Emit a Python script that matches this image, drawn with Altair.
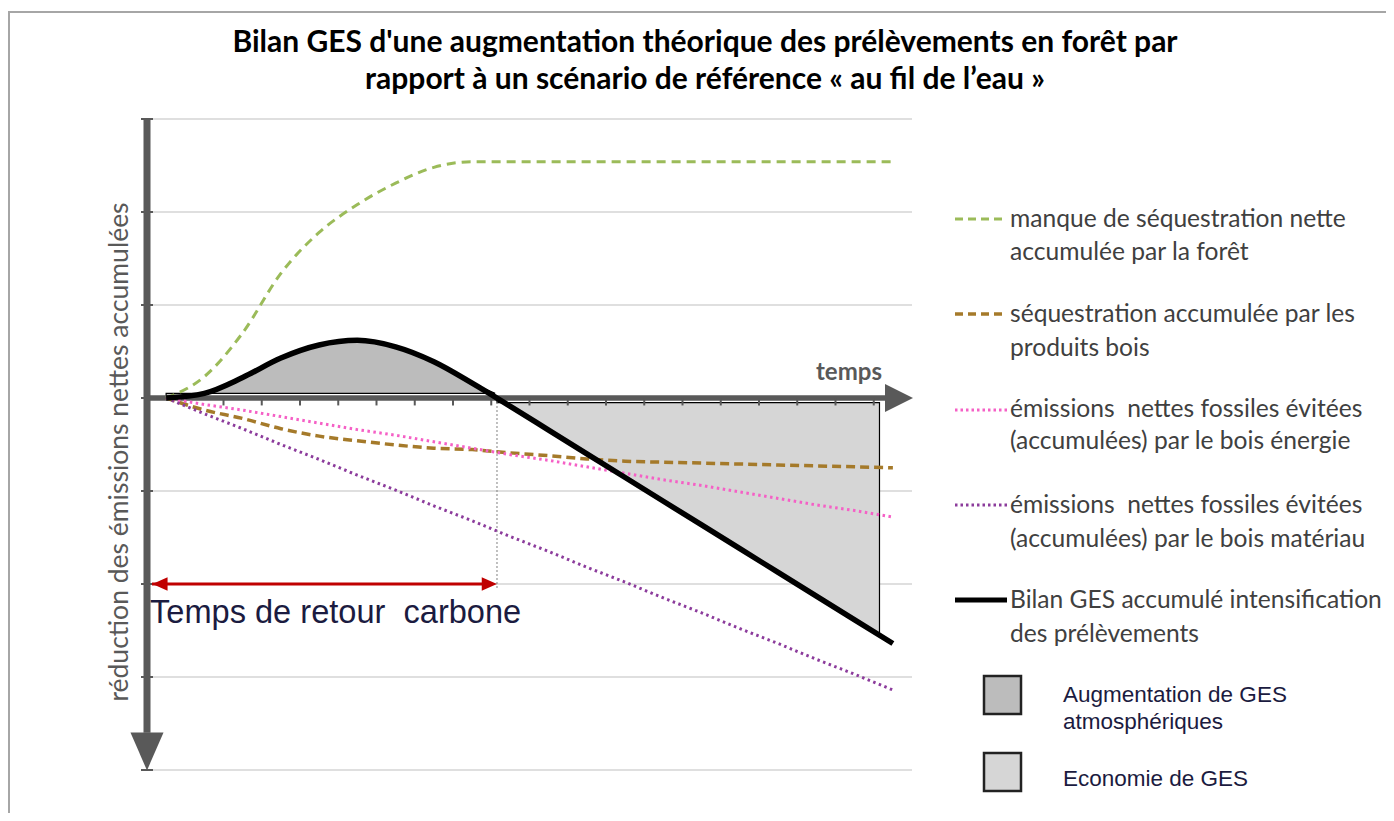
import altair as alt
import pandas as pd

# ---------------- data ----------------
periods = list(range(20))
manque_foret = [0, 0.23, 0.70, 1.34, 1.78, 2.08, 2.31, 2.48, 2.54, 2.54,
                2.54, 2.54, 2.54, 2.54, 2.54, 2.54, 2.54, 2.54, 2.54, 2.54]
sequestration_produits = [0, -0.13, -0.22, -0.33, -0.41, -0.46, -0.505, -0.54, -0.555, -0.59,
                          -0.62, -0.655, -0.68, -0.69, -0.70, -0.71, -0.72, -0.73, -0.74, -0.75]
evitees_energie = [0, -0.07, -0.13, -0.20, -0.27, -0.34, -0.40, -0.47, -0.54, -0.61,
                   -0.67, -0.74, -0.81, -0.88, -0.94, -1.01, -1.08, -1.15, -1.21, -1.28]
evitees_materiau = [0, -0.17, -0.33, -0.50, -0.66, -0.83, -0.99, -1.16, -1.32, -1.49,
                    -1.65, -1.82, -1.98, -2.15, -2.31, -2.48, -2.64, -2.81, -2.97, -3.14]
bilan = [0, 0.05, 0.22, 0.43, 0.57, 0.62, 0.55, 0.39, 0.16, -0.09,
         -0.345, -0.60, -0.855, -1.11, -1.365, -1.62, -1.875, -2.13, -2.385, -2.64]

retour_t = 8.65          # temps de retour carbone (bilan crosses zero)
aug_t = periods[:9] + [8.6]
aug_y = bilan[:9] + [0.05]
aug_base = 0.05
eco_t = [retour_t] + periods[9:19] + [18.65]
eco_y = [0] + bilan[9:19] + [-2.55]
eco_base = -0.05
grid_levels = [3, 2, 1, -1, -2, -3, -4]
x_ticks = [i - 0.5 for i in range(1, 20)]
retour_level = -2

title_lines = ["Bilan GES d'une augmentation théorique des prélèvements en forêt par",
               "rapport à un scénario de référence « au fil de l’eau »"]
legend_lines = [
    ["manque de séquestration nette", "accumulée par la forêt"],
    ["séquestration accumulée par les", "produits bois"],
    ["émissions\u00a0 nettes fossiles évitées", "(accumulées) par le bois énergie"],
    ["émissions\u00a0 nettes fossiles évitées", "(accumulées) par le bois matériau"],
    ["Bilan GES accumulé intensification", "des prélèvements"],
]
area_legend = [["Augmentation de GES", "atmosphériques"], ["Economie de GES"]]

# ---------------- styles ----------------
GREEN, BROWN, PINK, PURPLE = "#9bbb59", "#a57a2a", "#f560c6", "#8c3c9c"
AXIS = "#595959"
OX, OY = 147, 119      # page position of the plot origin
W, H = 765, 651

xs = alt.Scale(domain=[-0.5, 19.5], nice=False, zero=False)
ys = alt.Scale(domain=[-4, 3], nice=False, zero=False)
one = pd.DataFrame({"a": [0]})
X = lambda f="t": alt.X(f + ":Q", scale=xs, axis=None)
Y = lambda f="v": alt.Y(f + ":Q", scale=ys, axis=None)


def series(vals, color, width, dash=None, interp="monotone"):
    df = pd.DataFrame({"t": periods, "v": vals})
    kw = dict(color=color, strokeWidth=width, interpolate=interp)
    if dash:
        kw["strokeDash"] = dash
    return alt.Chart(df).mark_line(**kw).encode(x=X(), y=Y())


def seg(t1, t2, v1, v2, color, width, dash=None):
    df = pd.DataFrame({"t": [t1], "t2": [t2], "v": [v1], "v2": [v2]})
    kw = dict(color=color, strokeWidth=width)
    if dash:
        kw["strokeDash"] = dash
    return alt.Chart(df).mark_rule(**kw).encode(x=X(), x2="t2:Q", y=Y(), y2="v2:Q")


def head(t, v, shape, size, color):
    df = pd.DataFrame({"t": [t], "v": [v]})
    return alt.Chart(df).mark_point(shape=shape, size=size, filled=True, color=color,
                                    opacity=1, strokeWidth=0).encode(x=X(), y=Y())


def txt(s, px, py, size, color="#404040", font="Lato", weight="normal",
        align="left", angle=0, baseline="alphabetic"):
    kw = dict(text=s, fontSize=size, color=color, font=font, fontWeight=weight,
              align=align, baseline=baseline)
    if angle:
        kw["angle"] = angle
    return alt.Chart(one).mark_text(**kw).encode(
        x=alt.value(px - OX), y=alt.value(py - OY))


def hline(px1, px2, py, color, width, dash=None):
    kw = dict(color=color, strokeWidth=width)
    if dash:
        kw["strokeDash"] = dash
    return alt.Chart(one).mark_rule(**kw).encode(
        x=alt.value(px1 - OX), x2=alt.value(px2 - OX), y=alt.value(py - OY))


layers = []

# frame of the picture
layers.append(hline(8, 1394, 12, "#a6a6a6", 2))
layers.append(alt.Chart(one).mark_rule(color="#a6a6a6", strokeWidth=2).encode(
    x=alt.value(9 - OX), y=alt.value(12 - OY), y2=alt.value(H + 43)))

# gridlines
layers.append(alt.Chart(pd.DataFrame({"v": grid_levels})).mark_rule(
    color="#d4d4d4", strokeWidth=1.3).encode(y=Y(), x=alt.value(0), x2=alt.value(W)))

# areas
layers.append(alt.Chart(pd.DataFrame({"t": aug_t, "v": aug_y, "b": [aug_base] * len(aug_t)})).mark_area(
    color="#bcbcbc", stroke="black", strokeWidth=1.2, interpolate="monotone").encode(
    x=X(), y=Y(), y2="b:Q"))
layers.append(alt.Chart(pd.DataFrame({"t": eco_t, "v": eco_y, "b": [eco_base] * len(eco_t)})).mark_area(
    color="#d6d6d6", stroke="black", strokeWidth=1.2).encode(
    x=X(), y=Y(), y2="b:Q"))

# axes (thick gray arrows)
layers.append(seg(-0.5, -0.5, 3, -3.6, AXIS, 7))
layers.append(seg(-0.5, 19.0, 0, 0, AXIS, 5.5))
layers.append(alt.Chart(pd.DataFrame({"t": x_ticks, "v": [0] * len(x_ticks), "v2": [-0.08] * len(x_ticks)}))
              .mark_rule(color=AXIS, strokeWidth=2).encode(x=X(), y=Y(), y2="v2:Q"))
layers.append(alt.Chart(pd.DataFrame({"v": grid_levels + [0]})).mark_rule(color=AXIS, strokeWidth=2).encode(
    y=Y(), x=alt.value(-6), x2=alt.value(6)))
layers.append(head(-0.5, -3.8, "M-0.87,-1L0.87,-1L0,1Z", 1444, AXIS))
layers.append(head(19.16, 0, "M-1,-1L1,0L-1,1Z", 784, AXIS))

# temps de retour carbone marker
layers.append(seg(retour_t, retour_t, 0, -2.05, "#808080", 1, [2, 2]))
layers.append(seg(-0.37, retour_t - 0.3, retour_level, retour_level, "#c00000", 3))
layers.append(head(8.45, retour_level, "M-1,-0.9L1,0L-1,0.9Z", 230, "#c00000"))
layers.append(head(-0.16, retour_level, "M1,-0.9L-1,0L1,0.9Z", 230, "#c00000"))

# series
layers.append(series(manque_foret, GREEN, 3, [9, 6]))
layers.append(series(sequestration_produits, BROWN, 3.5, [9, 5]))
layers.append(series(evitees_energie, PINK, 3, [2.5, 3.5], "linear"))
layers.append(series(evitees_materiau, PURPLE, 3, [2.5, 3.5], "linear"))
layers.append(series(bilan, "black", 5.5))

# texts
layers.append(txt(title_lines[0], 705, 52, 30, "black", weight="bold", align="center"))
layers.append(txt(title_lines[1], 705, 89, 30, "black", weight="bold", align="center"))
layers.append(txt("temps", 816, 380, 24, AXIS, weight="bold"))
layers.append(txt("réduction des émissions nettes accumulées", 120, 452, 26.5, AXIS,
                  align="center", angle=270, baseline="middle"))
layers.append(txt("Temps de retour\u00a0 carbone", 150, 623, 32.6, "#1b1b40", font="Liberation Sans"))

# legend
sym = [(GREEN, 3, [8, 5]), (BROWN, 3.5, [8, 5]), (PINK, 3, [2.5, 3]), (PURPLE, 3, [2.5, 3]), ("black", 5, None)]
sym_y = [219, 314, 410, 505, 600]
base_y = [(227, 260), (322, 356), (417, 449), (513, 547), (608, 642)]
for (c, w, d), sy, (b1, b2), lines in zip(sym, sym_y, base_y, legend_lines):
    layers.append(hline(955, 1007, sy, c, w, d))
    layers.append(txt(lines[0], 1010, b1, 24.6))
    layers.append(txt(lines[1], 1010, b2, 24.6))

for (y1, y2, fill) in [(676, 714, "#bcbcbc"), (753, 791, "#d6d6d6")]:
    layers.append(alt.Chart(one).mark_rect(fill=fill, stroke="#222222", strokeWidth=2.5).encode(
        x=alt.value(984 - OX), x2=alt.value(1021 - OX), y=alt.value(y1 - OY), y2=alt.value(y2 - OY)))
layers.append(txt(area_legend[0][0], 1063, 702, 22.5, "#1b1b40", font="Liberation Sans"))
layers.append(txt(area_legend[0][1], 1063, 729, 22.5, "#1b1b40", font="Liberation Sans"))
layers.append(txt(area_legend[1][0], 1063, 786, 22.5, "#1b1b40", font="Liberation Sans"))

chart = alt.layer(*layers).properties(
    width=W, height=H,
    padding={"left": 139, "top": 111, "right": 474, "bottom": 43},
    autosize=alt.AutoSizeParams(type="none"),
    background="white",
).configure_view(stroke=None)

chart.save("out.html", embed_options={"renderer": "svg", "actions": False})
